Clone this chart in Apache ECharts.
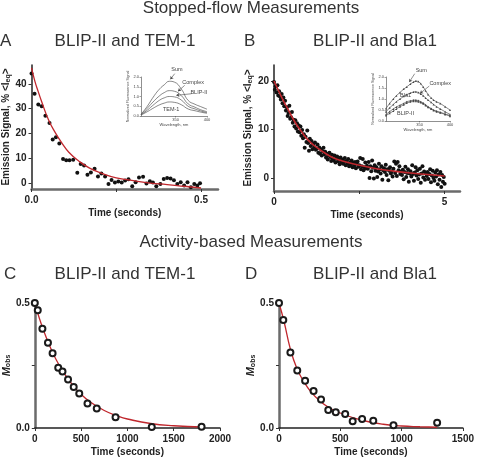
<!DOCTYPE html>
<html><head><meta charset="utf-8">
<script src="https://cdn.jsdelivr.net/npm/echarts@6/dist/echarts.min.js"></script>
<style>html,body{margin:0;padding:0;background:#fff}#c{width:477px;height:458px}</style>
</head><body><div id="c"></div>
<script>
// ---------- Panel A: BLIP-II and TEM-1 (stopped-flow) ----------
const aTime = [0,0.009,0.02,0.03,0.041,0.053,0.0625,0.072,0.082,0.093,0.1025,0.112,0.123,0.135,0.145,0.155,0.165,0.175,0.186,0.196,0.206,0.217,0.227,0.236,0.246,0.256,0.266,0.276,0.286,0.297,0.307,0.317,0.329,0.339,0.349,0.358,0.368,0.38,0.39,0.4,0.41,0.42,0.43,0.44,0.45,0.46,0.47,0.48,0.489,0.497];
const aSignal = [44.2,36,31.7,31,27.2,24.3,17.6,18.5,16,9.8,9.3,9.3,9.5,4.2,7.8,7.2,3.4,4.3,5.8,2.7,3.9,2.7,-0.3,1.3,0.3,0.7,0.3,1.1,1.6,-1.2,0.4,2.3,2.6,-0.1,0.8,0.3,-1.2,-0.3,1.7,2.1,1.9,1.2,-0.3,0.4,-0.9,0.4,-1.6,-0.3,-0.9,0];
const aFitTime = [0,0.01,0.02,0.03,0.05,0.07,0.09,0.11,0.14,0.17,0.2,0.25,0.3,0.35,0.4,0.45,0.5];
const aFitSignal = [46.4,41.0,36.8,32.8,25.6,20.4,16.1,12.5,8.9,6.2,4.4,2.2,1.1,0.1,-0.5,-1.2,-1.9];

// ---------- Panel B: BLIP-II and Bla1 (stopped-flow) ----------
const bTime = [
0,0.025,0.05,0.075,0.1,0.125,0.15,0.175,0.2,0.225,
0.25,0.275,0.3,0.325,0.35,0.375,0.4,0.425,0.45,0.475,
0.5,0.525,0.55,0.575,0.6,0.625,0.65,0.675,0.7,0.725,
0.75,0.775,0.8,0.825,0.85,0.875,0.9,0.925,0.95,0.975,
1,1.025,1.05,1.075,1.1,1.125,1.15,1.175,1.2,1.225,
1.25,1.275,1.3,1.325,1.35,1.375,1.4,1.425,1.45,1.475,
1.5,1.525,1.55,1.575,1.6,1.625,1.65,1.675,1.7,1.725,
1.75,1.775,1.8,1.825,1.85,1.875,1.9,1.925,1.95,1.975,
2,2.025,2.05,2.075,2.1,2.125,2.15,2.175,2.2,2.225,
2.25,2.275,2.3,2.325,2.35,2.375,2.4,2.425,2.45,2.475,
2.5,2.525,2.55,2.575,2.6,2.625,2.65,2.675,2.7,2.725,
2.75,2.775,2.8,2.825,2.85,2.875,2.9,2.925,2.95,2.975,
3,3.025,3.05,3.075,3.1,3.125,3.15,3.175,3.2,3.225,
3.25,3.275,3.3,3.325,3.35,3.375,3.4,3.425,3.45,3.475,
3.5,3.525,3.55,3.575,3.6,3.625,3.65,3.675,3.7,3.725,
3.75,3.775,3.8,3.825,3.85,3.875,3.9,3.925,3.95,3.975,
4,4.025,4.05,4.075,4.1,4.125,4.15,4.175,4.2,4.225,
4.25,4.275,4.3,4.325,4.35,4.375,4.4,4.425,4.45,4.475,
4.5,4.525,4.55,4.575,4.6,4.625,4.65,4.675,4.7,4.725,
4.75,4.775,4.8,4.825,4.85,4.875,4.9,4.925,4.95,4.975,
5];
const bSignal = [
19.8,18.2,18.9,17.6,19.1,17.0,17.9,16.8,16.2,17.3,
15.4,16.6,14.8,15.9,13.9,14.6,12.8,13.4,14.9,12.2,
12.5,13.6,11.4,12.0,10.6,11.9,10.2,11.3,9.6,10.8,
9.4,10.6,8.7,9.9,8.2,9.0,6.2,8.5,7.4,9.8,
7.2,5.6,8.1,6.6,7.6,5.9,7.0,6.4,7.3,5.8,
6.0,6.9,5.2,6.3,5.0,5.9,4.6,5.5,6.2,4.9,
5.4,4.2,5.0,3.8,4.6,5.2,4.3,3.5,4.8,4.0,
3.6,4.6,3.2,4.0,4.4,3.4,3.9,2.8,4.2,3.3,
3.8,2.9,3.4,4.1,2.6,3.5,3.0,3.9,2.4,3.2,
2.8,3.6,2.2,3.1,2.5,3.3,2.0,2.9,3.4,2.3,
2.6,4.1,1.8,2.4,3.9,1.6,2.2,3.2,2.0,2.5,
1.9,3.3,0.0,2.4,1.4,3.6,2.1,-0.1,2.6,1.5,
2.2,0.2,1.3,2.9,1.8,0.9,2.4,-0.4,1.6,2.0,
1.2,2.7,0.6,1.8,-0.5,1.5,2.2,0.9,1.4,0.3,
1.9,3.4,1.0,2.9,0.4,3.3,1.6,2.4,0.8,1.3,
0.6,1.7,-0.3,1.2,2.3,0.2,1.0,1.8,-0.8,0.9,
1.4,0.3,2.6,0.8,-0.6,1.1,2.2,0.5,1.6,-0.2,
0.7,1.9,-1.0,0.9,2.4,0.1,1.3,-0.4,1.0,0.4,
1.2,-0.2,0.8,1.8,-0.9,0.5,1.5,0.0,-0.6,1.1,
0.3,1.6,-1.3,0.7,-0.4,1.2,-1.9,0.6,-0.8,0.2,
-1.2];
const bFitTime = [0,0.1,0.2,0.3,0.4,0.6,0.8,1.0,1.25,1.5,1.75,2.0,2.5,3.0,3.5,4.0,4.5,5.0];
const bFitSignal = [20.0,18.5,17.0,15.6,14.3,11.7,9.6,7.8,6.3,5.1,4.1,3.5,2.6,1.9,1.4,1.0,0.7,0.4];

// ---------- Panel C: BLIP-II and TEM-1 (activity) ----------
const cTime = [0,32,82,142,192,253,299,359,420,480,569,669,872,1263,1801];
const cMobs = [0.5,0.471,0.397,0.341,0.299,0.241,0.226,0.194,0.164,0.138,0.098,0.078,0.043,0.004,0.005];
const cFitTime = [0,50,100,150,200,250,300,400,500,600,750,900,1000,1250,1500,1800];
const cFitMobs = [0.5,0.438,0.385,0.338,0.296,0.26,0.228,0.176,0.135,0.104,0.07,0.047,0.036,0.018,0.009,0.004];

// ---------- Panel D: BLIP-II and Bla1 (activity) ----------
const dTime = [0,35,93,149,213,282,343,402,463,540,601,678,769,934,1290];
const dMobs = [0.5,0.432,0.302,0.230,0.189,0.148,0.114,0.072,0.063,0.056,0.027,0.036,0.029,0.011,0.021];
const dFitTime = [0,40,93,146,200,260,333,420,500,600,731,850,1000,1150,1290];
const dFitMobs = [0.5,0.428,0.315,0.238,0.188,0.145,0.108,0.078,0.06,0.042,0.025,0.015,0.008,0.005,0.003];

// ---------- Insets: emission spectra ----------
const insetAWave = [295,305,316,325,332,340,348,359,370,381,390,400];
const insetASum = [0.08,0.5,1.04,1.4,1.6,1.78,1.74,1.39,0.8,0.6,0.48,0.35];
const insetAComplex = [0.07,0.4,0.78,1.05,1.2,1.3,1.27,1.05,0.62,0.45,0.32,0.22];
const insetABlip = [0.06,0.3,0.6,0.82,0.93,1.0,0.98,0.82,0.5,0.36,0.26,0.17];
const insetATem = [0.05,0.22,0.43,0.58,0.66,0.72,0.7,0.58,0.36,0.27,0.2,0.14];

const insetBWave = [295,301,307,312,318,324,329,335,340,344,348,352,356,360,364,369,373,378,384,392,400];
const insetBSum = [0.57,0.8,1.0,1.15,1.3,1.45,1.55,1.68,1.77,1.82,1.8,1.7,1.55,1.38,1.2,1.05,0.95,0.87,0.8,0.65,0.5];
const insetBComplex = [0.42,0.6,0.75,0.88,1.0,1.12,1.2,1.27,1.32,1.33,1.3,1.23,1.15,1.05,0.95,0.85,0.75,0.65,0.55,0.42,0.3];
const insetBBla = [0.3,0.43,0.55,0.64,0.72,0.8,0.88,0.92,0.95,0.95,0.93,0.88,0.82,0.74,0.65,0.57,0.5,0.45,0.4,0.32,0.25];
const insetBBlip = [0.25,0.35,0.45,0.55,0.65,0.74,0.82,0.87,0.9,0.9,0.88,0.84,0.78,0.7,0.62,0.55,0.48,0.42,0.37,0.3,0.22];

const spectrumTicks = [0,0.5,1,1.5,2];
const spectrumWaveTicks = [350,400];

// ---------- build ----------
const FONT = 'Liberation Sans, Arial, sans-serif';
const RED = '#c0272d';
function pairs(xs, ys){ return xs.map((x,i)=>[x, ys[i]]); }

const tickLabel = {fontFamily: FONT, fontSize: 10, fontWeight: 'bold', color: '#222'};
function xAxisMain(gi, min, max, ticks, labels, fmt, lineColor, lineWidth){
  return {
    type:'value', gridIndex: gi, min, max,
    name:'Time (seconds)', nameLocation:'middle', nameGap: 19,
    nameTextStyle:{fontFamily:FONT, fontSize:10, fontWeight:'bold', color:'#222'},
    axisLine:{show:true, onZero:false, lineStyle:{color:lineColor, width:lineWidth}},
    axisTick:{show:true, length:3, customValues: ticks, lineStyle:{color:'#333', width:1}},
    axisLabel:Object.assign({margin:6, customValues: labels, formatter: fmt}, tickLabel),
    splitLine:{show:false}
  };
}
function yAxisMain(gi, min, max, ticks, labels, fmt, name, nameGap, rich, lineColor, lineWidth){
  return {
    type:'value', gridIndex: gi, min, max,
    name, nameLocation:'middle', nameGap,
    nameTextStyle:{fontFamily:FONT, fontSize:10, fontWeight:'bold', color:'#222', rich},
    axisLine:{show:true, onZero:false, lineStyle:{color:lineColor, width:lineWidth}},
    axisTick:{show:true, length:3, customValues: ticks, lineStyle:{color:'#333', width:1}},
    axisLabel:Object.assign({margin:5, customValues: labels, formatter: fmt}, tickLabel),
    splitLine:{show:false}
  };
}
const emissionRich = {
  b:{fontFamily:FONT, fontSize:10, fontWeight:'bold', color:'#222'},
  s:{fontFamily:FONT, fontSize:7, fontWeight:'bold', color:'#222', verticalAlign:'bottom', padding:[4,0,0,0]}
};
const mobsRich = {
  m:{fontFamily:FONT, fontSize:11, fontWeight:'bold', fontStyle:'italic', color:'#222'},
  s:{fontFamily:FONT, fontSize:7, fontWeight:'bold', color:'#222', verticalAlign:'bottom', padding:[4,0,0,0]}
};
const inLabel = {fontFamily:FONT, fontSize:4, color:'#444'};
function insetX(gi){
  return {type:'value', gridIndex:gi, min:295, max:400,
    name:'Wavelength, nm', nameLocation:'middle', nameGap:6,
    nameTextStyle:{fontFamily:FONT, fontSize:4, color:'#444'},
    axisLine:{show:true, onZero:false, lineStyle:{color:'#444', width:0.6}},
    axisTick:{show:true, length:1.5, customValues: spectrumWaveTicks, lineStyle:{color:'#444', width:0.5}},
    axisLabel:Object.assign({margin:2, customValues: spectrumWaveTicks}, inLabel),
    splitLine:{show:false}};
}
function insetY(gi){
  return {type:'value', gridIndex:gi, min:0, max:2,
    name:'Normalized Fluorescence Signal', nameLocation:'middle', nameGap:8,
    nameTextStyle:{fontFamily:FONT, fontSize:3.6, color:'#444'},
    axisLine:{show:true, onZero:false, lineStyle:{color:'#444', width:0.6}},
    axisTick:{show:true, length:1.5, customValues: spectrumTicks, lineStyle:{color:'#444', width:0.5}},
    axisLabel:Object.assign({margin:2, customValues: spectrumTicks, formatter:v=>v.toFixed(1)}, inLabel),
    splitLine:{show:false}};
}

const titleStyle = {fontFamily:FONT, fontSize:17, fontWeight:'normal', color:'#333'};
function T(text, left, top, align){
  return {text, left, top, padding:0, textAlign: align||'left', textStyle: titleStyle};
}

const annotLabel = (text)=>({show:true, formatter:text, position:'inside', fontFamily:FONT, fontSize:5.5, color:'#444'});
function annot(text, x, y){
  return {coord:[x,y], symbol:'rect', symbolSize:1, itemStyle:{color:'rgba(0,0,0,0)'}, label:annotLabel(text)};
}
// annotation placed above the inset's plotting area (outside the axis range)
function annotAbove(text, px, py){
  return {x:px, y:py, symbol:'rect', symbolSize:1, itemStyle:{color:'rgba(0,0,0,0)'}, label:annotLabel(text)};
}
function arrow(x1,y1,x2,y2){
  return [{coord:[x1,y1], symbol:'none'},{coord:[x2,y2], symbol:'arrow', symbolSize:3}];
}
function arrowFromAbove(px,py,x2,y2){
  return [{x:px, y:py, symbol:'none'},{coord:[x2,y2], symbol:'arrow', symbolSize:3}];
}

const specLine = (name, xi, wave, vals, extra) => Object.assign({
  type:'line', name, xAxisIndex:xi, yAxisIndex:xi, data:pairs(wave, vals),
  smooth:true, showSymbol:false, silent:true, clip:false,
  lineStyle:{color:'#555', width:0.7}
}, extra||{});

const dot = {color:'#111', opacity:1};
const ring = {color:'#1a1a1a', borderColor:'#1a1a1a', borderWidth:1.8, opacity:1};

const option = {
  animation:false,
  backgroundColor:'#fff',
  title:[
    T('Stopped-flow Measurements', 251, 0, 'center'),
    T('A', 0, 33), T('BLIP-II and TEM-1', 125, 33, 'center'),
    T('B', 244, 33), T('BLIP-II and Bla1', 375, 33, 'center'),
    T('Activity-based Measurements', 251, 234, 'center'),
    T('C', 4, 266), T('BLIP-II and TEM-1', 125, 266, 'center'),
    T('D', 245, 266), T('BLIP-II and Bla1', 375, 266, 'center')
  ],
  grid:[
    {left:30, top:65, width:188, height:124},
    {left:274, top:65, width:186, height:126},
    {left:33, top:303, width:187, height:125},
    {left:279, top:303, width:188, height:125},
    {left:141, top:77, width:66, height:39},
    {left:386, top:77, width:64, height:44}
  ],
  xAxis:[
    xAxisMain(0, 0, 0.55, [0,0.25,0.5], [0,0.5], v=>v.toFixed(1), '#6b6b6b', 2.5),
    xAxisMain(1, 0, 5.45, [0,2.5,5], [0,5], v=>String(v), '#6b6b6b', 2.5),
    xAxisMain(2, 0, 2000, [0,500,1000,1500,2000], [0,500,1000,1500,2000], v=>String(v), '#222', 1.5),
    xAxisMain(3, 0, 1500, [0,500,1000,1500], [0,500,1000,1500], v=>String(v), '#222', 1.5),
    insetX(4), insetX(5)
  ],
  yAxis:[
    yAxisMain(0, -2.3, 47.6, [0,10,20,30,40], [0,10,20,30,40], v=>String(v),
      '{b|Emission Signal, % <I}{s|eq}{b|>}', 13, emissionRich, '#222', 1.5),
    yAxisMain(1, -2.7, 23.3, [0,10,20], [0,10,20], v=>String(v),
      '{b|Emission Signal, % <I}{s|eq}{b|>}', 10, emissionRich, '#222', 1.5),
    yAxisMain(2, 0, 0.5, [0,0.25,0.5], [0,0.5], v=>v.toFixed(1),
      '{m|M}{s|obs}', 17, mobsRich, '#6b6b6b', 2.5),
    yAxisMain(3, 0, 0.5, [0,0.25,0.5], [0,0.5], v=>v.toFixed(1),
      '{m|M}{s|obs}', 20, mobsRich, '#6b6b6b', 2.5),
    insetY(4), insetY(5)
  ],
  series:[
    {type:'scatter', xAxisIndex:0, yAxisIndex:0, data:pairs(aTime,aSignal), symbol:'circle', symbolSize:4, clip:false, itemStyle:dot, z:2},
    {type:'line', xAxisIndex:0, yAxisIndex:0, data:pairs(aFitTime,aFitSignal), smooth:true, showSymbol:false, clip:false, lineStyle:{color:RED, width:1.3}, z:3},
    {type:'scatter', xAxisIndex:1, yAxisIndex:1, data:pairs(bTime,bSignal), symbol:'circle', symbolSize:4, clip:false, itemStyle:dot, z:2},
    {type:'line', xAxisIndex:1, yAxisIndex:1, data:pairs(bFitTime,bFitSignal), smooth:true, showSymbol:false, clip:false, lineStyle:{color:RED, width:1.6}, z:3},
    {type:'line', xAxisIndex:2, yAxisIndex:2, data:pairs(cFitTime,cFitMobs), smooth:true, showSymbol:false, clip:false, lineStyle:{color:RED, width:1.3}, z:2},
    {type:'scatter', xAxisIndex:2, yAxisIndex:2, data:pairs(cTime,cMobs), symbol:'emptyCircle', symbolSize:6, clip:false, itemStyle:ring, z:3},
    {type:'line', xAxisIndex:3, yAxisIndex:3, data:pairs(dFitTime,dFitMobs), smooth:true, showSymbol:false, clip:false, lineStyle:{color:RED, width:1.3}, z:2},
    {type:'scatter', xAxisIndex:3, yAxisIndex:3, data:pairs(dTime,dMobs), symbol:'emptyCircle', symbolSize:6, clip:false, itemStyle:ring, z:3},
    specLine('Sum',4,insetAWave,insetASum,{
      markPoint:{silent:true, data:[annotAbove('Sum',177,69.5), annot('Complex',378,1.72), annot('BLIP-II',387,1.2), annot('TEM-1',343,0.33)]},
      markLine:{silent:true, symbol:['none','arrow'], lineStyle:{color:'#444', width:0.6, type:'solid'}, label:{show:false},
        data:[arrowFromAbove(174.7,73.7,341.7,1.88), arrow(364.5,1.57,353.9,1.27), arrow(375,1.14,351.2,1.06)]}
    }),
    specLine('Complex',4,insetAWave,insetAComplex),
    specLine('BLIP-II',4,insetAWave,insetABlip),
    specLine('TEM-1',4,insetAWave,insetATem),
    specLine('Sum',5,insetBWave,insetBSum,{smooth:false, showSymbol:true, symbol:'triangle', symbolSize:2, itemStyle:{color:'#444'},
      markPoint:{silent:true, data:[annotAbove('Sum',421.3,70.3), annot('Complex',384,1.7), annot('Bla1',327,1.14), annot('BLIP-II',327,0.34)]},
      markLine:{silent:true, symbol:['none','arrow'], lineStyle:{color:'#444', width:0.6, type:'solid'}, label:{show:false},
        data:[arrowFromAbove(414.7,73.7,333.2,1.77), arrow(366,1.59,350.8,1.25)]}
    }),
    specLine('Complex',5,insetBWave,insetBComplex,{smooth:false, showSymbol:true, symbol:'triangle', symbolSize:2, itemStyle:{color:'#444'}}),
    specLine('Bla1',5,insetBWave,insetBBla,{smooth:false, showSymbol:true, symbol:'triangle', symbolSize:2, itemStyle:{color:'#444'}}),
    specLine('BLIP-II',5,insetBWave,insetBBlip,{smooth:false, showSymbol:true, symbol:'triangle', symbolSize:2, itemStyle:{color:'#444'}})
  ]
};
const chart = echarts.init(document.getElementById('c'), null, {renderer:'canvas'});
chart.setOption(option);
</script>
</body></html>
